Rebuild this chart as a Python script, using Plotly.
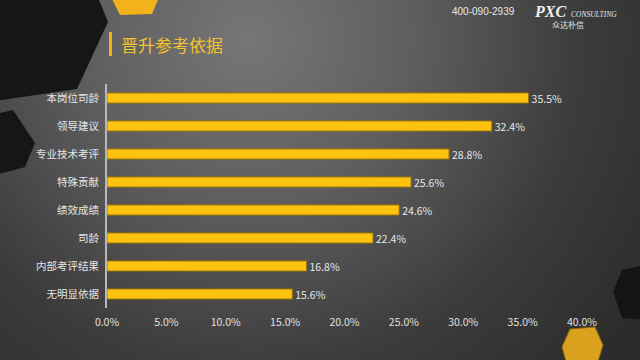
import base64
import plotly.graph_objects as go

categories = ["本岗位司龄", "领导建议", "专业技术考评", "特殊贡献", "绩效成绩", "司龄", "内部考评结果", "无明显依据"]
values = [35.5, 32.4, 28.8, 25.6, 24.6, 22.4, 16.8, 15.6]
tick_vals = [0, 5, 10, 15, 20, 25, 30, 35, 40]
tick_text = ["0.0%", "5.0%", "10.0%", "15.0%", "20.0%", "25.0%", "30.0%", "35.0%", "40.0%"]
title_text = "晋升参考依据"
phone = "400-090-2939"

W, H = 640, 360
FONT = "Noto Sans CJK SC"

svg = f'''<svg xmlns="http://www.w3.org/2000/svg" width="{W}" height="{H}" viewBox="0 0 {W} {H}">
<defs><radialGradient id="g" cx="250" cy="40" r="470" gradientUnits="userSpaceOnUse">
<stop offset="0" stop-color="#767676"/><stop offset="0.35" stop-color="#5e5e5e"/>
<stop offset="0.7" stop-color="#3c3c3c"/><stop offset="1" stop-color="#2c2c2c"/></radialGradient></defs>
<rect width="{W}" height="{H}" fill="url(#g)"/></svg>'''
src = "data:image/svg+xml;base64," + base64.b64encode(svg.encode()).decode()

fig = go.Figure()
fig.add_trace(go.Bar(
    y=categories, x=values, orientation="h",
    marker=dict(color="#FFC20E", line=dict(color="#9a7410", width=1)),
    width=0.36,
    text=[f"{v:.1f}%" for v in values], textposition="outside",
    textfont=dict(color="#e6e6e6", size=10.5, family=FONT),
    constraintext="none",
    cliponaxis=False,
    hoverinfo="skip",
))

def px(x, y):
    return x / W, 1 - y / H

def path(pts):
    s = ""
    for i, (x, y) in enumerate(pts):
        xx, yy = px(x, y)
        s += ("M" if i == 0 else "L") + f"{xx:.5f},{yy:.5f} "
    return s + "Z"

shapes = [
    dict(type="path", xref="paper", yref="paper", layer="below", line=dict(width=0),
         fillcolor="#161616", path=path([(-5, -5), (97, -5), (108, 22), (77, 89), (-5, 101)])),
    dict(type="path", xref="paper", yref="paper", layer="below", line=dict(width=0),
         fillcolor="#161616", path=path([(-5, 114), (13, 110), (35, 143), (25, 167), (-5, 175)])),
    dict(type="path", xref="paper", yref="paper", layer="below", line=dict(width=0),
         fillcolor="#141414", path=path([(613, 292), (622, 270), (645, 265), (645, 320), (622, 318)])),
    dict(type="path", xref="paper", yref="paper", layer="below", line=dict(width=0),
         fillcolor="#F2B21C", path=path([(110, -5), (160, -5), (152, 14), (120, 15)])),
    dict(type="path", xref="paper", yref="paper", layer="below", line=dict(color="#8a6a10", width=1),
         fillcolor="#D9A11E", path=path([(570, 329), (595, 327), (603, 345), (597, 365), (567, 365), (562, 347)])),
    # title accent bar
    dict(type="rect", xref="paper", yref="paper", layer="above", line=dict(width=0),
         fillcolor="#F2B21C", x0=109 / W, x1=112 / W, y0=1 - 56 / H, y1=1 - 32 / H),
]

annotations = [
    dict(text=title_text, xref="paper", yref="paper", x=119 / W, y=1 - 44 / H,
         xanchor="left", yanchor="middle", showarrow=False,
         font=dict(family=FONT, size=17, color="#F2C230")),
    dict(text=phone, xref="paper", yref="paper", x=483 / W, y=1 - 12 / H,
         xanchor="center", yanchor="middle", showarrow=False,
         font=dict(family="Liberation Sans", size=10, color="#e8e8e8")),
    dict(text="<b><i>PXC</i></b>", xref="paper", yref="paper", x=532 / W, y=1 - 12 / H,
         xanchor="left", yanchor="middle", showarrow=False,
         font=dict(family="Liberation Serif", size=16, color="#f0f0f0")),
    dict(text="<i>CONSULTING</i>", xref="paper", yref="paper", x=569 / W, y=1 - 15 / H,
         xanchor="left", yanchor="middle", showarrow=False,
         font=dict(family="Liberation Serif", size=7.5, color="#e8e8e8")),
    dict(text="众达朴信", xref="paper", yref="paper", x=568 / W, y=1 - 25 / H,
         xanchor="center", yanchor="middle", showarrow=False,
         font=dict(family=FONT, size=8, color="#e8e8e8")),
]

fig.update_layout(
    width=W, height=H, autosize=False,
    margin=dict(l=0, r=0, t=0, b=0, pad=0, autoexpand=False),
    paper_bgcolor="#444444", plot_bgcolor="rgba(0,0,0,0)",
    showlegend=False, hovermode=False,
    images=[dict(source=src, xref="paper", yref="paper", x=0, y=1, sizex=1, sizey=1,
                 sizing="stretch", layer="below", xanchor="left", yanchor="top")],
    shapes=shapes, annotations=annotations,
    xaxis=dict(domain=[107 / W, 582 / W], range=[0, 40], tickvals=tick_vals, ticktext=tick_text,
               showgrid=False, zeroline=False, showline=False, ticks="", automargin=False,
               tickfont=dict(family=FONT, size=10.5, color="#e0e0e0"), ticklabelstandoff=6),
    yaxis=dict(domain=[1 - 308 / H, 1 - 84 / H], categoryorder="array", categoryarray=categories[::-1],
               showgrid=False, zeroline=False, showline=True, linecolor="#b8b8b8", linewidth=2,
               ticks="", automargin=False,
               tickfont=dict(family=FONT, size=10.5, color="#e6e6e6"), ticklabelstandoff=4),
    bargap=0.64,
)

fig.write_html("out.html", config={"displayModeBar": False},
               post_script="document.body.style.margin='0';document.body.style.overflow='hidden';")
